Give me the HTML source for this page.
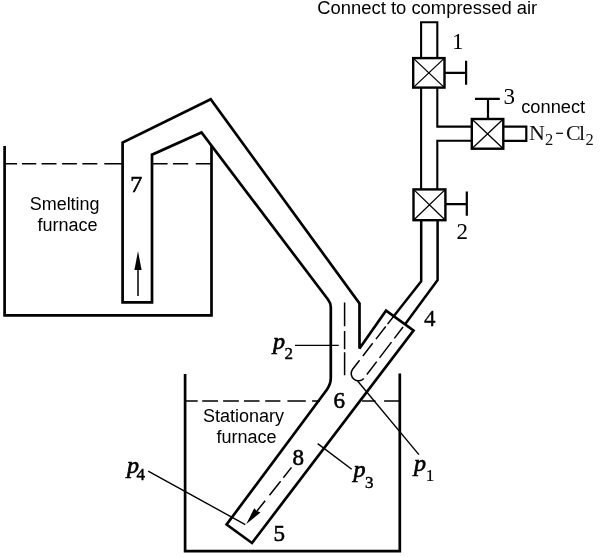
<!DOCTYPE html>
<html><head><meta charset="utf-8"><style>
html,body{margin:0;padding:0;background:#fff;}
body{width:600px;height:557px;overflow:hidden;position:relative;}
svg{position:absolute;left:0;top:0;will-change:transform;}
.s{font-family:"Liberation Sans",sans-serif;font-size:18px;fill:#000;}
.r{font-family:"Liberation Serif",serif;font-size:23px;fill:#000;}
.rb{stroke:#000;stroke-width:0.6;}
.pi{font-family:"Liberation Serif",serif;font-style:italic;font-size:24px;fill:#000;stroke:#000;stroke-width:0.7;}
.sub{font-family:"Liberation Serif",serif;font-size:17px;fill:#000;stroke:#000;stroke-width:0.45;}
.r22{font-family:"Liberation Serif",serif;font-size:22px;fill:#111;}
.sub15{font-family:"Liberation Serif",serif;font-size:16.5px;fill:#111;}
</style></head><body>
<svg width="600" height="557" viewBox="0 0 600 557">
<g fill="none" stroke="#000" stroke-width="2.7" stroke-linejoin="miter" stroke-linecap="butt">
  <!-- air pipe top -->
  <path d="M421.1 58.1 V22.2 H437.3 V58.1" stroke-width="2.1"/>
  <!-- valve 1 -->
  <rect x="413.2" y="58.1" width="31.3" height="29.5" stroke-width="2.4"/>
  <path d="M413.2 58.1 L444.5 87.6 M444.5 58.1 L413.2 87.6" stroke-width="1.3"/>
  <path d="M444.5 72.9 H466.1 M466.1 60.7 V84.7" stroke-width="2.2"/>
  <!-- pipe between valve1 and valve2 with T -->
  <path d="M421.1 87.6 V189.4" stroke-width="2.1"/>
  <path d="M437.3 87.6 V126.6 H471.8 M471.8 140.8 H437.3 V189.4" stroke-width="2.1"/>
  <!-- valve 3 -->
  <rect x="471.8" y="119" width="31.5" height="29.7" stroke-width="2.4"/>
  <path d="M471.8 119 L503.3 148.7 M503.3 119 L471.8 148.7" stroke-width="1.3"/>
  <path d="M488 119 V98.8 M475 98.8 H499.8" stroke-width="2.2"/>
  <path d="M503.3 126.6 H526.3 V140.8 H503.3" stroke-width="2.2"/>
  <!-- valve 2 -->
  <rect x="413.5" y="189.4" width="31.9" height="30.8" stroke-width="2.4"/>
  <path d="M413.5 189.4 L445.4 220.2 M445.4 189.4 L413.5 220.2" stroke-width="1.3"/>
  <path d="M445.4 204.2 H466.8 M466.8 191.6 V215.8" stroke-width="2.2"/>
  <!-- pipe below valve 2 -->
  <path d="M421.2 220.2 V281.3 L393.7 316.2" stroke-width="2.5"/>
  <path d="M437.6 220.2 V280 L404.9 324.5" stroke-width="2.5"/>
  <!-- main tube (sleeve + pipe 8) + pipe 7 -->
  <path d="M386.1 310.6 L359.5 348.6 L359.5 303.5 L210.7 99.3 L122.6 142.6 L122.6 302.3 L152 302.3 L152 154.7 L201.5 132.5 L328 299.5 Q330.8 303.3 330.8 307 L330.8 378 Q330.8 384 327 389.5 L226.6 524.5 L252 543 L413.5 330.5 Z" stroke-miterlimit="3"/>
  <!-- smelting furnace -->
  <path d="M4.6 145.9 V315.4 H211.5 V145.8"/>
  <!-- stationary furnace -->
  <path d="M185.1 374.1 V551.2 H399.8 V373.6"/>
</g>
<g fill="none" stroke="#000" stroke-width="1.5">
  <!-- smelting liquid level -->
  <path d="M4.6 163.7 H122.6" stroke-dasharray="12.5 4.8 14.4 5.3 14.9 5.6 14.8 5.5 14.9 7 30"/>
  <path d="M152 163.75 H211.5" stroke-dasharray="15.6 5.3 15.3 7.5 30"/>
  <!-- stationary level -->
  <path d="M185.1 400.9 H320" stroke-dasharray="12.6 4.5 15.8 5.1 15.8 5.1 15.5 5.7 15.2 7 18.4 6.3 20"/>
  <path d="M362 400.9 H399.8" stroke-dasharray="13.5 8.6 30"/>
  <!-- center dashed of left pipe -->
  <path d="M344.6 302.6 V375.2" stroke-dasharray="23.7 4.6 18.3 3.1 30"/>
  <!-- inner tube dashed -->
  <path d="M393.7 316.2 L352.6 369.2 A6.9 6.9 0 0 0 364.4 377.8 L404.9 324.5" stroke-dasharray="10 3 16 5.3 16 5.4 33 5 16.3 4.6 19.8 4.7 14.4 10"/>
  <!-- arrow dashed in pipe 8 -->
  <path d="M291.5 467.4 L257 511" stroke-dasharray="13.1 4.5 17.9 7 30"/>
  <!-- leaders -->
  <path d="M295 345.4 H338.7" stroke-width="1.4"/>
  <path d="M357.6 381 L418.9 454.6" stroke-width="1.4"/>
  <path d="M317.7 443.6 L351.7 469.2" stroke-width="1.4"/>
  <path d="M148.2 471.2 L245.3 524.6" stroke-width="1.4"/>
  <!-- arrow in pipe 7 -->
  <path d="M138 296 V268"/>
</g>
<path d="M138 251 L134.4 270 L141.6 270 Z" fill="#000"/>
<path d="M246.3 524 L254.2 508.3 L257 511 L260.5 512.5 Z" fill="#000"/>
<!-- texts -->
<g id="texts">
<text id="t_top" class="s" x="317.25" y="14" textLength="220" lengthAdjust="spacingAndGlyphs">Connect to compressed air</text>
<text id="t_connect" class="s" x="521.2" y="113" textLength="64" lengthAdjust="spacingAndGlyphs">connect</text>
<text id="t_smelt" class="s" x="29.7" y="210" textLength="69.9" lengthAdjust="spacingAndGlyphs">Smelting</text>
<text id="t_furn1" class="s" x="37.5" y="231">furnace</text>
<text id="t_stat" class="s" x="203" y="422.4">Stationary</text>
<text id="t_furn2" class="s" x="216.5" y="443.4">furnace</text>
<text id="d1" class="r" x="452" y="49">1</text>
<text id="d2" class="r" x="456.5" y="239">2</text>
<text id="d3" class="r" x="503.5" y="103.7">3</text>
<text id="d4" class="r" style="stroke:#000;stroke-width:0.3" x="424" y="326">4</text>
<text id="d5" class="r rb" x="273.5" y="540.8">5</text>
<text id="d6" class="r rb" x="333.5" y="408">6</text>
<text id="d7" class="r rb" style="font-size:24px" x="130.3" y="192.2">7</text>
<text id="d8" class="r rb" x="292.5" y="465.3">8</text>
<text id="nN" class="r22" x="529" y="140">N</text>
<text id="nN2" class="sub15" x="545" y="145">2</text>
<text id="nC" class="r22" x="566" y="140">C</text>
<text id="nl" class="r22" x="579" y="140">l</text>
<text id="nl2" class="sub15" x="585.5" y="145">2</text>
<text id="p2" class="pi" x="273" y="349">p</text><text id="p2s" class="sub" x="284.5" y="358.5">2</text>
<text id="p1" class="pi" x="414" y="471">p</text><text id="p1s" class="sub" style="stroke-width:0.2" x="425.8" y="481">1</text>
<text id="p3" class="pi" x="353.5" y="477">p</text><text id="p3s" class="sub" x="365" y="488">3</text>
<text id="p4" class="pi" x="127" y="473">p</text><text id="p4s" class="sub" x="136.5" y="480.4">4</text>
</g>
<path d="M556 133.3 H563" stroke="#000" stroke-width="1.2"/>
</svg>
</body></html>
